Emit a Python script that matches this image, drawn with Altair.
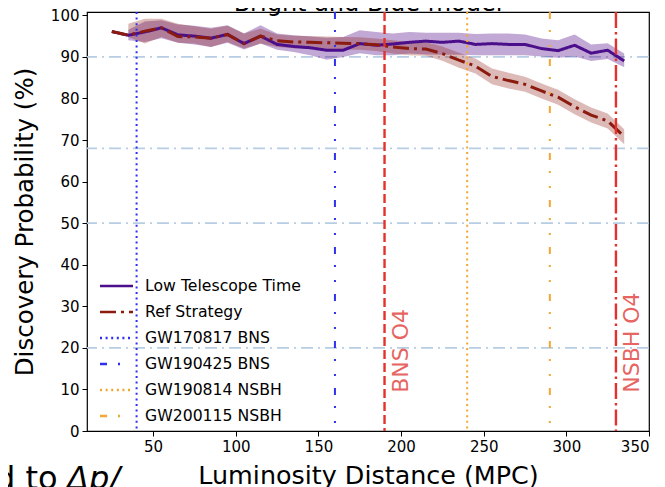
import altair as alt
import pandas as pd

# ---------------- data ----------------
dist = list(range(25, 336, 10))
low_tt = [96.1, 95.2, 96.0, 97.0, 95.3, 95.0, 94.5, 95.4, 93.2, 95.0,
          93.0, 92.5, 92.2, 91.6, 91.6, 93.2, 92.8, 93.1, 93.5, 93.8,
          93.5, 93.8, 93.0, 93.2, 93.0, 93.0, 92.0, 91.5, 92.8, 90.9,
          91.6, 89.0]
ref = [96.1, 95.2, 96.2, 97.0, 94.9, 94.8, 94.5, 95.4, 93.2, 95.0,
       93.9, 93.6, 93.5, 93.4, 93.3, 93.2, 92.9, 92.4, 92.0, 91.9,
       90.8, 89.2, 87.8, 85.3, 84.3, 83.4, 81.8, 80.3, 78.0, 76.0,
       74.6, 70.8]

band_dist = list(range(35, 336, 10))
low_tt_hi = [96.5, 98.5, 98.8, 97.8, 97.5, 97.0, 97.6, 95.6, 97.6, 95.6,
             95.2, 94.9, 94.6, 94.8, 96.4, 96.0, 95.6, 96.0, 95.8, 95.8,
             95.8, 95.5, 95.6, 95.6, 95.4, 94.4, 94.0, 95.4, 93.0, 93.3,
             90.8]
low_tt_lo = [94.0, 93.6, 94.5, 93.4, 93.0, 92.4, 93.4, 91.8, 93.2, 91.7,
             91.2, 90.4, 89.3, 90.0, 90.9, 90.4, 90.4, 90.8, 90.6, 90.5,
             90.5, 90.4, 90.4, 90.4, 90.4, 90.1, 89.8, 90.1, 89.0, 89.5,
             87.5]
ref_hi = [98.0, 99.2, 99.2, 98.0, 97.4, 96.8, 97.5, 95.6, 96.8, 95.4,
          95.1, 95.0, 94.9, 94.8, 94.7, 94.4, 94.0, 93.6, 93.5, 92.5,
          91.0, 89.6, 87.2, 86.2, 85.2, 83.6, 82.1, 79.8, 77.8, 76.4,
          72.6]
ref_lo = [94.8, 93.2, 94.8, 93.4, 93.2, 92.4, 93.6, 92.0, 93.2, 92.4,
          92.1, 92.0, 91.9, 91.8, 91.7, 91.4, 90.8, 90.4, 90.3, 89.1,
          87.4, 86.0, 83.4, 82.4, 81.6, 80.0, 78.5, 76.2, 74.2, 72.8,
          69.0]

series_names = ["Low Telescope Time", "Ref Strategy"]
events = ["GW170817 BNS", "GW190425 BNS", "GW190814 NSBH", "GW200115 NSBH"]
event_dist = [40, 160, 240, 290]

o4_labels = ["BNS O4", "NSBH O4"]
o4_dist = [190, 330]
o4_label_dist = [200, 340]
o4_label_prob = [9.2, 9.2]

hline_vals = [90, 68, 50, 20]

x_ticks = [50, 100, 150, 200, 250, 300, 350]
y_ticks = [0, 10, 20, 30, 40, 50, 60, 70, 80, 90, 100]

title_text = "Bright and Blue model"
x_title = "Luminosity Distance (MPC)"
y_title = "Discovery Probability (%)"

# ---------------- styles ----------------
legend_names = series_names + events
legend_colors = ["#4b0f8c", "#8b1a0f", "#2f2ff0", "#2f2ff0", "#f2a633", "#f2a633"]
legend_dashes = [[1, 0], [16, 5, 3, 5], [2, 3.6], [7, 11, 2, 13, 2, 12],
                 [2, 3.6], [7, 11, 2, 13, 2, 12]]
o4_dashes = [[9, 4], [16, 4, 2.5, 4]]
FONT = "DejaVu Sans"

lines_df = pd.DataFrame({
    "dist": dist * 2,
    "prob": low_tt + ref,
    "series": [series_names[0]] * len(dist) + [series_names[1]] * len(dist),
})
band_low_df = pd.DataFrame({"dist": band_dist, "lo": low_tt_lo, "hi": low_tt_hi})
band_ref_df = pd.DataFrame({"dist": band_dist, "lo": ref_lo, "hi": ref_hi})
events_df = pd.DataFrame({"dist": event_dist, "series": events})
o4_text_df = pd.DataFrame({"dist": o4_label_dist, "prob": o4_label_prob, "label": o4_labels})
hline_df = pd.DataFrame({"prob": hline_vals})

xs = alt.Scale(domain=[10, 350], nice=False, zero=False)
ys = alt.Scale(domain=[0, 100.8], nice=False, zero=False)

x_axis = alt.Axis(values=x_ticks, format="d", domain=False, grid=False,
                  tickColor="black", tickSize=5, tickWidth=1,
                  labelFont=FONT, labelFontSize=15, labelColor="black", labelPadding=3,
                  titleFont=FONT, titleFontSize=25.4, titleFontWeight="normal",
                  titleColor="black", titleBaseline="alphabetic", titleY=52)
y_axis = alt.Axis(values=y_ticks, format="d", domain=False, grid=False,
                  tickColor="black", tickSize=5, tickWidth=1,
                  labelFont=FONT, labelFontSize=15, labelColor="black", labelPadding=3,
                  titleFont=FONT, titleFontSize=24.5, titleFontWeight="normal",
                  titleColor="black", titleBaseline="alphabetic", titleAngle=270,
                  titleX=-54.5, titleY=209.5, titleAlign="center")


def X(field="dist"):
    return alt.X(f"{field}:Q", scale=xs, axis=x_axis, title=x_title)


def Y(field="prob"):
    return alt.Y(f"{field}:Q", scale=ys, axis=y_axis, title=y_title)


legend = alt.Legend(title=None, orient="none", legendX=11.5, legendY=256,
                    symbolType="stroke", symbolSize=1089, symbolStrokeWidth=2.6,
                    labelFont=FONT, labelFontSize=15.7, labelColor="black",
                    labelFontWeight="normal",
                    labelOffset=10.5, rowPadding=0, padding=0)
color_enc = alt.Color("series:N", scale=alt.Scale(domain=legend_names, range=legend_colors),
                      legend=legend)
dash_enc = alt.StrokeDash("series:N", scale=alt.Scale(domain=legend_names, range=legend_dashes),
                          legend=legend)

hlines = alt.Chart(hline_df).mark_rule(color="#b6cde4", strokeWidth=1.6,
                                       strokeDash=[12, 5, 2, 5]).encode(y=Y())

band_low = alt.Chart(band_low_df).mark_area(color="#4b0082", opacity=0.34).encode(
    x=X(), y=Y("lo"), y2="hi:Q")
band_ref = alt.Chart(band_ref_df).mark_area(color="#8b1a0f", opacity=0.3).encode(
    x=X(), y=Y("lo"), y2="hi:Q")

lines = alt.Chart(lines_df).mark_line(strokeWidth=3).encode(
    x=X(), y=Y(), color=color_enc, strokeDash=dash_enc, order="dist:Q")

event_rules = alt.Chart(events_df).mark_rule(strokeWidth=2).encode(
    x=X(), color=color_enc, strokeDash=dash_enc)

o4_rule_layers = [
    alt.Chart(pd.DataFrame({"dist": [d]})).mark_rule(
        strokeWidth=2.4, color="#e3312d", strokeDash=dash).encode(x=X())
    for d, dash in zip(o4_dist, o4_dashes)
]

o4_text = alt.Chart(o4_text_df).mark_text(angle=270, align="left", baseline="middle",
                                          font=FONT, fontSize=22, color="#e66461").encode(
    x=X(), y=Y(), text="label:N")

title_mark = alt.Chart(pd.DataFrame({"t": [title_text]})).mark_text(
    align="center", baseline="alphabetic", font=FONT, fontSize=24, color="black").encode(
    x=alt.value(281), y=alt.value(-1), text="t:N")

cut1 = alt.Chart(pd.DataFrame({"t": ["d to"]})).mark_text(
    align="left", baseline="alphabetic", font=FONT, fontSize=32, color="black").encode(
    x=alt.value(-92), y=alt.value(477), text="t:N")
cut2 = alt.Chart(pd.DataFrame({"t": ["Δp/"]})).mark_text(
    align="left", baseline="alphabetic", font=FONT, fontSize=32, fontStyle="italic",
    color="black").encode(x=alt.value(-20), y=alt.value(477), text="t:N")

chart = alt.layer(
    hlines, band_low, band_ref, lines, event_rules, *o4_rule_layers, o4_text,
    title_mark, cut1, cut2
).properties(
    width=562, height=419,
    autosize=alt.AutoSizeParams(type="none"),
    padding={"left": 79, "top": 4, "right": 8, "bottom": 56},
).configure_view(stroke="black", strokeWidth=1.2)

chart.save("out.html", embed_options={"renderer": "svg", "actions": False})
